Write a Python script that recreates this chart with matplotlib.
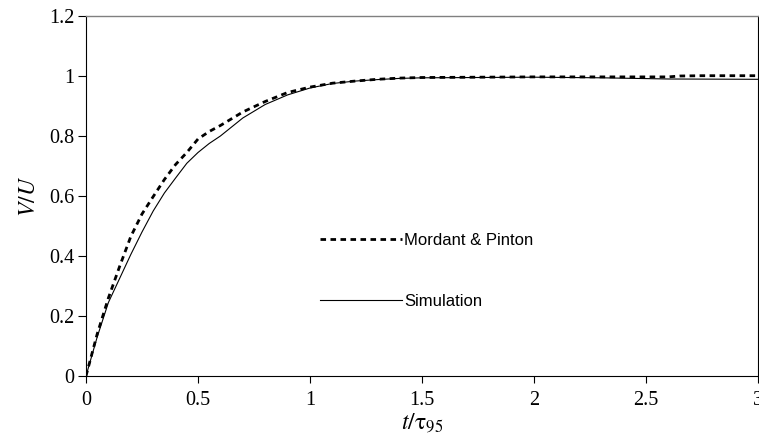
import matplotlib
matplotlib.use("Agg")
import matplotlib.pyplot as plt

t_mp = [0, 0.05, 0.1, 0.15, 0.2, 0.25, 0.3, 0.35, 0.4, 0.45, 0.5, 0.55, 0.6, 0.7, 0.8,
        0.9, 1.0, 1.1, 1.2, 1.3, 1.4, 1.5, 1.75, 2.0, 2.25, 2.5, 2.6, 2.65, 2.75, 3.0]
v_mp = [0, 0.14, 0.26, 0.365, 0.465, 0.54, 0.598, 0.655, 0.705, 0.745, 0.79, 0.815, 0.835, 0.88, 0.915,
        0.945, 0.963, 0.976, 0.983, 0.989, 0.993, 0.995, 0.996, 0.997, 0.997, 0.997, 0.997, 1.0, 1.001, 1.001]

t_sim = [0, 0.05, 0.1, 0.15, 0.2, 0.25, 0.3, 0.35, 0.4, 0.45, 0.5, 0.55, 0.6, 0.7, 0.8,
         0.9, 1.0, 1.1, 1.2, 1.3, 1.4, 1.5, 1.75, 2.0, 2.3, 2.6, 3.0]
v_sim = [0, 0.13, 0.245, 0.325, 0.405, 0.48, 0.55, 0.61, 0.66, 0.709, 0.745, 0.775, 0.80, 0.86, 0.905,
         0.937, 0.96, 0.975, 0.983, 0.988, 0.992, 0.994, 0.995, 0.996, 0.994, 0.99, 0.989]

labels = ["Mordant & Pinton", "Simulation"]
x_ticks = [0, 0.5, 1, 1.5, 2, 2.5, 3]
x_ticklabels = ["0", "0.5", "1", "1.5", "2", "2.5", "3"]
y_ticks = [0, 0.2, 0.4, 0.6, 0.8, 1.0, 1.2]
y_ticklabels = ["0", "0.2", "0.4", "0.6", "0.8", "1", "1.2"]

plt.rcParams['mathtext.fontset'] = 'stix'

fig = plt.figure(figsize=(7.59, 4.48), dpi=100)
ax = fig.add_axes([86/759, 1-376/448, 672/759, 360/448])

ax.plot(t_mp, v_mp, color='black', lw=2.0, linestyle=(0, (2, 1.6)), label=labels[0])
ax.plot(t_sim, v_sim, color='black', lw=0.8, label=labels[1])

ax.set_xlim(0, 3)
ax.set_ylim(0, 1.2)
ax.set_xticks(x_ticks)
ax.set_xticklabels(x_ticklabels, family='Liberation Serif', fontsize=14.5)
ax.set_yticks(y_ticks)
ax.set_yticklabels(y_ticklabels, family='Liberation Serif', fontsize=14.5)
ax.tick_params(axis='x', direction='out', length=5, width=0.8, pad=6)
ax.tick_params(axis='y', direction='out', length=5.5, width=0.8, pad=3)

for s in ['left', 'bottom', 'right']:
    ax.spines[s].set_color('black')
    ax.spines[s].set_linewidth(0.8)
ax.spines['top'].set_color('#808080')
ax.spines['top'].set_linewidth(1.0)

ax.set_xlabel(r'$\mathit{t}/\mathrm{\tau}_{\mathit{95}}$', fontsize=17, labelpad=0)
ax.set_ylabel(r'$\mathit{V/U}$', fontsize=17, labelpad=6)

leg = ax.legend(loc='center left', bbox_to_anchor=(320/759, 1-271/448),
                bbox_transform=fig.transFigure, frameon=False,
                prop={'family': 'Liberation Sans', 'size': 12},
                handlelength=4.9, handletextpad=0.15, labelspacing=2.75,
                borderpad=0, borderaxespad=0)

fig.savefig('out.png', dpi=100)
